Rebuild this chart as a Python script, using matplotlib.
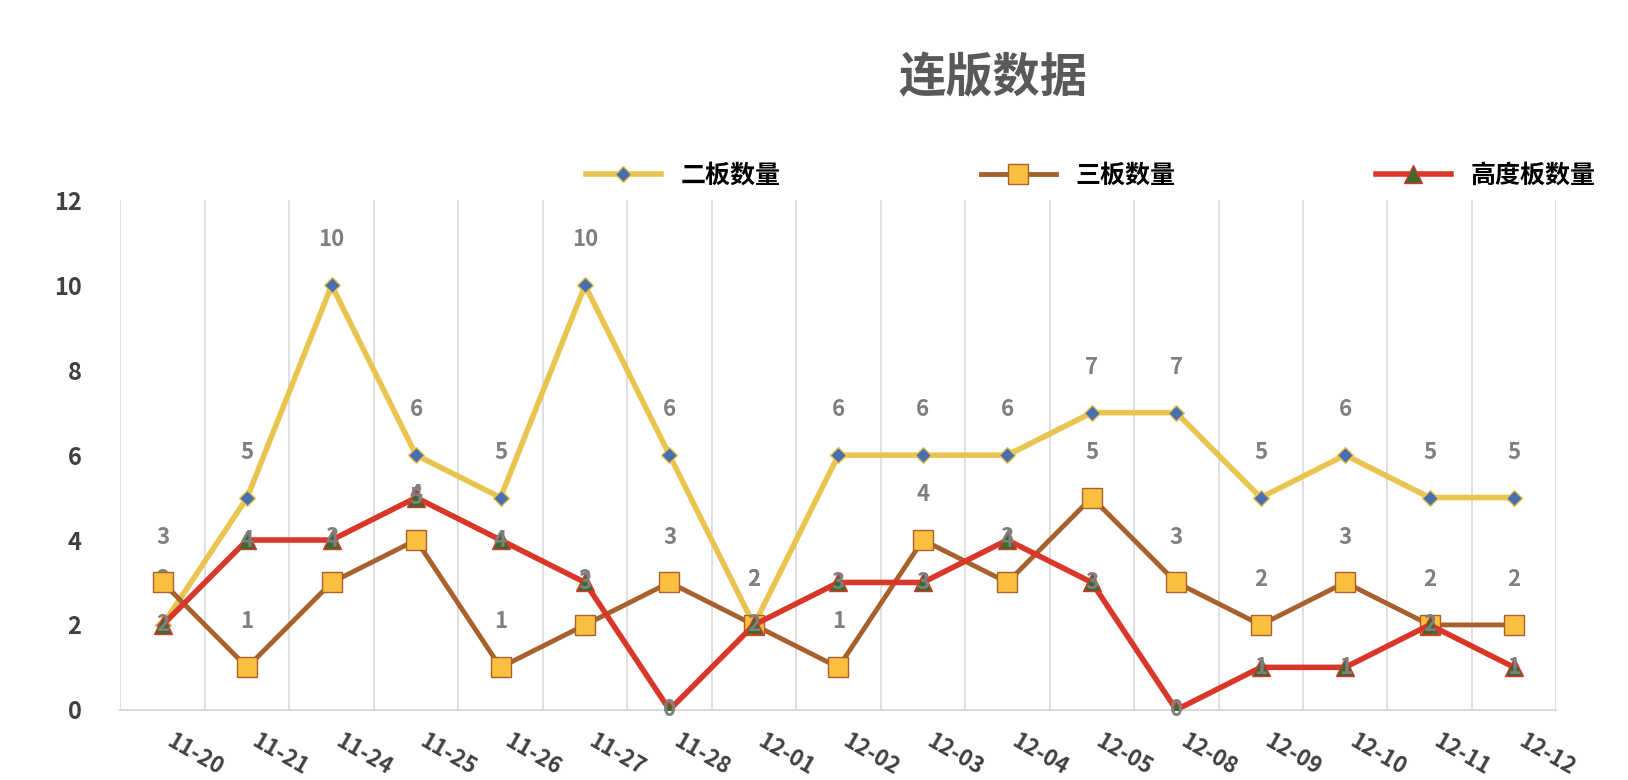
import matplotlib
matplotlib.use("Agg")
import matplotlib.pyplot as plt
import numpy as np

plt.rcParams["font.family"] = ["Noto Sans CJK SC", "DejaVu Sans"]

dates = ["11-20", "11-21", "11-24", "11-25", "11-26", "11-27", "11-28", "12-01", "12-02",
         "12-03", "12-04", "12-05", "12-08", "12-09", "12-10", "12-11", "12-12"]
two_board = [2, 5, 10, 6, 5, 10, 6, 2, 6, 6, 6, 7, 7, 5, 6, 5, 5]
three_board = [3, 1, 3, 4, 1, 2, 3, 2, 1, 4, 3, 5, 3, 2, 3, 2, 2]
high_board = [2, 4, 4, 5, 4, 3, 0, 2, 3, 3, 4, 3, 0, 1, 1, 2, 1]

fig = plt.figure(figsize=(16.28, 7.8), dpi=100)
ax = fig.add_axes([0.074, 0.09, 0.882, 0.653])
x = np.arange(len(dates))
lab = dict(fontsize=16, fontweight="bold", color="#7f7f7f", ha="center")

ax.plot(x, two_board, color="#e9c44f", lw=4, marker="D", ms=8, mfc="#4a6fae", mec="#e9c44f", label="二板数量", zorder=3)
ax.plot(x, three_board, color="#a8602c", lw=3.5, marker="s", ms=14, mfc="#fbbf3f", mec="#a8602c", label="三板数量", zorder=4)
ax.plot(x, high_board, color="#d8372a", lw=4, marker="^", ms=13, mfc="#3d6b2c", mec="#d8372a", label="高度板数量", zorder=5)

for i in x:
    ax.text(i, two_board[i] + 0.8, str(two_board[i]), va="bottom", **lab)
    ax.text(i, three_board[i] + 0.8, str(three_board[i]), va="bottom", **lab)
    ax.text(i, high_board[i], str(high_board[i]), va="center", zorder=6, **lab)

ax.set_xlim(-0.5, len(dates) - 0.5)
ax.set_ylim(0, 12)
ax.set_yticks(range(0, 13, 2))
ax.set_xticks(x)
ax.set_xticklabels(dates, rotation=-30, ha="left", fontsize=16, fontweight="bold", color="#404040")
ax.tick_params(axis="y", labelsize=17, labelcolor="#404040", length=0, pad=28)
for lbl in ax.get_yticklabels():
    lbl.set_fontweight("bold")
ax.tick_params(axis="x", length=0, pad=14)
ax.set_xticks(np.arange(-0.5, len(dates), 1), minor=True)
ax.grid(axis="x", which="minor", color="#d9d9d9", lw=1.2)
ax.tick_params(axis="x", which="minor", length=0)
for s in ["top", "right", "left"]:
    ax.spines[s].set_visible(False)
ax.spines["bottom"].set_color("#d9d9d9")
ax.spines["bottom"].set_linewidth(1.5)

fig.text(0.61, 0.9, "连版数据", fontsize=34, fontweight="bold", color="#595959", ha="center", va="center")
fig.legend(loc="center", bbox_to_anchor=(0.67, 0.775), ncol=3, frameon=False,
           columnspacing=8, handlelength=3.0, prop={"weight": "bold", "size": 18})

fig.savefig("out.png", dpi=100, facecolor="white")
